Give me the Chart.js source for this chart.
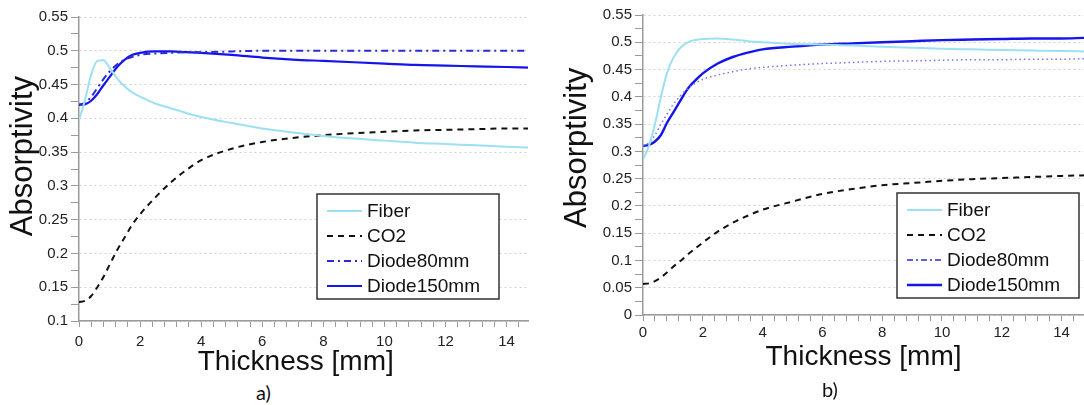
<!DOCTYPE html>
<html>
<head>
<meta charset="utf-8">
<script src="https://cdn.jsdelivr.net/npm/chart.js@4.4.1/dist/chart.umd.min.js"></script>
<style>
    body { margin: 0; background: #fff; width: 1084px; height: 405px; position: relative; overflow: hidden; }
    .panel { position: absolute; top: 0; }
    .cap { position: absolute; font: 20px Lato, "Open Sans", sans-serif; color: #111; }
</style>
</head>
<body>
<div class="panel" style="left:0"><canvas id="chartA" width="540" height="380"></canvas></div>
<div class="panel" style="left:544px"><canvas id="chartB" width="540" height="380"></canvas></div>
<div class="cap" style="left:256px; top:380px">a)</div>
<div class="cap" style="left:822px; top:377px">b)</div>
<script>
const $ = id => document.getElementById(id);

// 厚度 [mm]
const thicknessA = [0, 0.2, 0.4, 0.6, 0.8, 1, 1.25, 1.5, 1.75, 2, 2.5, 3, 3.5, 4, 5, 6, 7, 8, 9, 10, 11, 12, 13, 14, 14.7];
const thicknessB = [0, 0.2, 0.4, 0.6, 0.8, 1, 1.25, 1.5, 1.75, 2, 2.5, 3, 3.5, 4, 5, 6, 7, 8, 9, 10, 11, 12, 13, 14, 14.75];

// a)
const fiberA     = [0.397, 0.428, 0.465, 0.485, 0.486, 0.475, 0.459, 0.447, 0.438, 0.432, 0.422, 0.415, 0.408, 0.402, 0.393, 0.385, 0.379, 0.374, 0.370, 0.367, 0.364, 0.362, 0.360, 0.358, 0.357];
const co2A       = [0.128, 0.130, 0.137, 0.150, 0.165, 0.183, 0.205, 0.224, 0.243, 0.258, 0.283, 0.305, 0.323, 0.338, 0.355, 0.365, 0.371, 0.375, 0.378, 0.380, 0.382, 0.383, 0.384, 0.385, 0.385];
const diode80A   = [0.420, 0.423, 0.432, 0.445, 0.458, 0.469, 0.480, 0.487, 0.491, 0.494, 0.496, 0.497, 0.498, 0.498, 0.499, 0.500, 0.500, 0.500, 0.500, 0.500, 0.500, 0.500, 0.500, 0.500, 0.500];
const diode150A  = [0.420, 0.421, 0.426, 0.436, 0.449, 0.461, 0.476, 0.487, 0.494, 0.497, 0.499, 0.499, 0.498, 0.497, 0.494, 0.490, 0.487, 0.485, 0.483, 0.481, 0.479, 0.478, 0.477, 0.476, 0.475];

// b)
const fiberB     = [0.285, 0.310, 0.350, 0.400, 0.443, 0.470, 0.490, 0.500, 0.504, 0.506, 0.507, 0.505, 0.502, 0.500, 0.497, 0.496, 0.494, 0.492, 0.490, 0.488, 0.487, 0.486, 0.485, 0.484, 0.483];
const co2B       = [0.057, 0.058, 0.062, 0.069, 0.078, 0.088, 0.099, 0.111, 0.122, 0.133, 0.153, 0.169, 0.182, 0.193, 0.208, 0.222, 0.231, 0.238, 0.242, 0.246, 0.249, 0.251, 0.253, 0.255, 0.256];
const diode80B   = [0.310, 0.316, 0.330, 0.350, 0.368, 0.385, 0.402, 0.415, 0.425, 0.432, 0.440, 0.446, 0.451, 0.454, 0.458, 0.461, 0.463, 0.465, 0.466, 0.467, 0.468, 0.468, 0.469, 0.469, 0.470];
const diode150B  = [0.310, 0.312, 0.318, 0.330, 0.352, 0.370, 0.393, 0.415, 0.430, 0.443, 0.461, 0.473, 0.481, 0.487, 0.492, 0.496, 0.498, 0.500, 0.502, 0.504, 0.505, 0.506, 0.507, 0.507, 0.508];

// 刻度
const xTicks  = [0, 2, 4, 6, 8, 10, 12, 14];
const yTicksA = [0.1, 0.15, 0.2, 0.25, 0.3, 0.35, 0.4, 0.45, 0.5, 0.55];
const yTicksB = [0, 0.05, 0.1, 0.15, 0.2, 0.25, 0.3, 0.35, 0.4, 0.45, 0.5, 0.55];

const FONT = '"Liberation Sans", Arial, sans-serif';
const AXIS = '#9a9a9a';

const pts = (xs, ys) => xs.map((x, i) => ({x, y: ys[i]}));
const isIn = (arr, v) => arr.some(m => Math.abs(m - v) < 1e-6);
// 主刻度之间插入次刻度
const withMinor = (major, parts, max) => {
    const step = (major[1] - major[0]) / parts;
    const out = [];
    for (let v = major[0]; v <= max + 1e-9; v += step) out.push(Math.round(v * 10000) / 10000);
    return out;
};

// 图内带框图例
const boxLegend = {
    id: 'boxLegend',
    afterDraw(chart, args, o) {
        const {ctx, chartArea} = chart;
        const x = chartArea.right - o.right - o.width;
        const y = chartArea.bottom - o.bottom - o.height;
        ctx.save();
        ctx.fillStyle = '#fff';
        ctx.fillRect(x, y, o.width, o.height);
        ctx.strokeStyle = '#333';
        ctx.lineWidth = 1.5;
        ctx.strokeRect(x, y, o.width, o.height);
        ctx.font = `19px ${FONT}`;
        ctx.textBaseline = 'middle';
        chart.data.datasets.forEach((ds, i) => {
            const ry = y + 17 + i * 25;
            ctx.beginPath();
            ctx.setLineDash(ds.legendDash || ds.borderDash || []);
            ctx.strokeStyle = ds.legendColor || ds.borderColor;
            ctx.lineWidth = ds.borderWidth;
            ctx.moveTo(x + 10, ry);
            ctx.lineTo(x + 45, ry);
            ctx.stroke();
            ctx.setLineDash([]);
            ctx.fillStyle = '#111';
            ctx.fillText(ds.label, x + 50, ry + 1);
        });
        ctx.restore();
    }
};

const drawChart = (id, cfg) => {
    new Chart($(id).getContext('2d'), {
        type: 'line',
        data: {datasets: cfg.datasets},
        plugins: [boxLegend],
        options: {
            responsive: false,
            animation: false,
            devicePixelRatio: 1,
            layout: {padding: {top: cfg.top, right: cfg.right, left: 0, bottom: 0}},
            elements: {point: {radius: 0}, line: {cubicInterpolationMode: 'monotone'}},
            plugins: {
                legend: {display: false},
                tooltip: {enabled: false},
                boxLegend: cfg.legend
            },
            scales: {
                x: {
                    type: 'linear',
                    min: 0,
                    max: cfg.xMax,
                    afterBuildTicks: s => { s.ticks = withMinor(xTicks, 5, cfg.xMax).map(value => ({value})); },
                    afterFit: s => { s.height = cfg.xHeight; },
                    ticks: {
                        autoSkip: false, maxRotation: 0, padding: cfg.xPad,
                        color: '#222', font: {family: FONT, size: 15},
                        callback: v => isIn(xTicks, v) ? String(v) : ''
                    },
                    grid: {drawOnChartArea: false, tickLength: 6, tickColor: AXIS},
                    border: {color: AXIS, width: 1.5},
                    title: {
                        display: true, text: cfg.xTitle, color: '#111',
                        font: {family: FONT, size: 28}, padding: {top: 0, bottom: cfg.xTitlePad}
                    }
                },
                y: {
                    min: cfg.yTicks[0],
                    max: cfg.yTicks[cfg.yTicks.length - 1],
                    afterBuildTicks: s => { s.ticks = withMinor(cfg.yTicks, 2, s.max).map(value => ({value})); },
                    afterFit: s => { s.width = cfg.yWidth; },
                    ticks: {
                        autoSkip: false, padding: 3,
                        color: '#222', font: {family: FONT, size: 15},
                        callback: v => isIn(cfg.yTicks, v) ? String(Math.round(v * 1000) / 1000) : ''
                    },
                    grid: {
                        color: c => c.tick && isIn(cfg.yTicks, c.tick.value) ? '#d2d2d2' : 'rgba(0,0,0,0)',
                        tickLength: 8, tickColor: AXIS
                    },
                    border: {color: AXIS, width: 1.5, dash: [2, 3]},
                    title: {
                        display: true, text: cfg.yTitle, color: '#111',
                        font: {family: FONT, size: 31}, padding: {top: cfg.yTitlePad, bottom: 0}
                    }
                }
            }
        }
    });
};

window.onload = () => {
    drawChart('chartA', {
        xMax: 14.7, yTicks: yTicksA, top: 17, right: 12,
        yWidth: 79, xHeight: 59, xPad: 6, xTitlePad: 1, yTitlePad: 5,
        xTitle: 'Thickness [mm]  ', yTitle: '   Absorptivity',
        legend: {width: 182, height: 105, right: 29, bottom: 22},
        datasets: [
            {label: 'Fiber', data: pts(thicknessA, fiberA), borderColor: '#9ddff3', borderWidth: 2},
            {label: 'CO2', data: pts(thicknessA, co2A), borderColor: '#111', borderWidth: 2, borderDash: [6, 5]},
            {label: 'Diode80mm', data: pts(thicknessA, diode80A), borderColor: '#2a2ad6', borderWidth: 2, borderDash: [7, 4, 2, 4]},
            {label: 'Diode150mm', data: pts(thicknessA, diode150A), borderColor: '#1414ee', borderWidth: 2.2}
        ]
    });
    drawChart('chartB', {
        xMax: 14.75, yTicks: yTicksB, top: 15, right: 0,
        yWidth: 99, xHeight: 65, xPad: 3, xTitlePad: 6, yTitlePad: 15,
        xTitle: 'Thickness [mm]', yTitle: '    Absorptivity',
        legend: {width: 182, height: 105, right: 5, bottom: 17},
        datasets: [
            {label: 'Fiber', data: pts(thicknessB, fiberB), borderColor: '#9ddff3', borderWidth: 2},
            {label: 'CO2', data: pts(thicknessB, co2B), borderColor: '#111', borderWidth: 2, borderDash: [6, 5]},
            {label: 'Diode80mm', data: pts(thicknessB, diode80B), borderColor: '#7474f6', borderWidth: 1.5, borderDash: [1.5, 3],
                legendDash: [6, 3, 2, 3], legendColor: '#2a2ad6'},
            {label: 'Diode150mm', data: pts(thicknessB, diode150B), borderColor: '#1414ee', borderWidth: 2.4}
        ]
    });
};
</script>
</body>
</html>
